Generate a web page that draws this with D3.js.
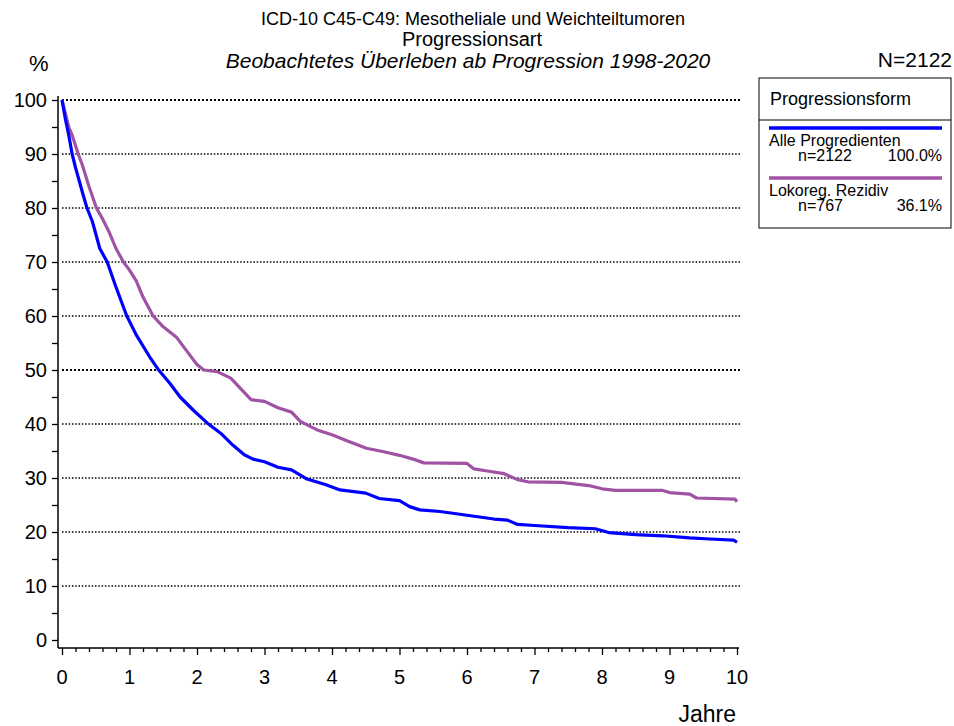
<!DOCTYPE html>
<html>
<head>
<meta charset="utf-8">
<script src="https://cdn.jsdelivr.net/npm/d3@7"></script>
<style>
  body { margin: 0; background: #fff; }
  text { font-family: "Liberation Sans", Arial, sans-serif; fill: #000; }
</style>
</head>
<body>
<svg id="chart" width="954" height="726"></svg>
<script>
// Survival values (years, percent)
const alleYears = [0, 0.05, 0.1, 0.15, 0.2, 0.3, 0.37, 0.45, 0.56, 0.67, 0.79, 0.9, 0.96, 1.1, 1.3, 1.42, 1.6, 1.75, 1.95, 2.15, 2.35, 2.53, 2.7, 2.83, 3.0, 3.2, 3.4, 3.63, 3.9, 4.12, 4.5, 4.7, 5.0, 5.15, 5.3, 5.6, 6.0, 6.4, 6.6, 6.75, 7.0, 7.5, 7.9, 8.1, 8.5, 8.9, 9.3, 9.6, 9.95, 10];
const alleValues = [100, 96.5, 93.5, 90, 87.5, 83, 80, 77.5, 72.5, 70, 65.7, 62, 60, 56.5, 52.4, 50.2, 47.5, 45, 42.5, 40.2, 38.3, 36.1, 34.3, 33.5, 33, 32, 31.5, 29.8, 28.8, 27.8, 27.2, 26.2, 25.8, 24.7, 24.1, 23.8, 23.1, 22.4, 22.2, 21.4, 21.2, 20.8, 20.6, 19.9, 19.5, 19.3, 18.9, 18.7, 18.5, 18.1];

const lokoYears = [0, 0.05, 0.1, 0.15, 0.24, 0.3, 0.4, 0.51, 0.6, 0.7, 0.8, 0.91, 1.0, 1.1, 1.2, 1.35, 1.5, 1.7, 1.85, 2.0, 2.1, 2.3, 2.5, 2.65, 2.8, 3.0, 3.2, 3.4, 3.53, 3.78, 4.0, 4.22, 4.51, 4.75, 5.0, 5.2, 5.36, 6.0, 6.1, 6.3, 6.55, 6.75, 6.9, 7.4, 7.8, 8.0, 8.2, 8.9, 9.0, 9.3, 9.4, 9.97, 10];
const lokoValues = [100, 97.5, 95, 93.5, 90, 88, 84, 80, 78, 75.5, 72.5, 70, 68.5, 66.5, 63.5, 60, 58, 56, 53.5, 51, 50, 49.7, 48.5, 46.5, 44.5, 44.2, 43, 42.2, 40.5, 38.9, 38, 36.9, 35.5, 34.9, 34.2, 33.5, 32.8, 32.7, 31.7, 31.3, 30.8, 29.7, 29.3, 29.2, 28.6, 28.0, 27.7, 27.7, 27.3, 27.0, 26.3, 26.1, 25.6];

const seriesNames = ["Alle Progredienten", "Lokoreg. Rezidiv"];
const seriesN = ["n=2122", "n=767"];
const seriesShare = ["100.0%", "36.1%"];
const seriesColors = ["#0000ff", "#a052a5"];

const xTicks = [0, 1, 2, 3, 4, 5, 6, 7, 8, 9, 10];
const yTicks = [0, 10, 20, 30, 40, 50, 60, 70, 80, 90, 100];
const gridValues = [10, 20, 30, 40, 50, 60, 70, 80, 90, 100];

const svg = d3.select("#chart");

const x = d3.scaleLinear().domain([0, 10]).range([62, 737]);
const y = d3.scaleLinear().domain([0, 100]).range([640, 100]);

// Titles
svg.append("text").attr("x", 473).attr("y", 25).attr("text-anchor", "middle")
  .attr("font-size", 18).text("ICD-10 C45-C49: Mesotheliale und Weichteiltumoren");
svg.append("text").attr("x", 472).attr("y", 46).attr("text-anchor", "middle")
  .attr("font-size", 20).text("Progressionsart");
svg.append("text").attr("x", 468).attr("y", 68).attr("text-anchor", "middle")
  .attr("font-size", 21).attr("font-style", "italic")
  .text("Beobachtetes Überleben ab Progression 1998-2020");
svg.append("text").attr("x", 29).attr("y", 71).attr("font-size", 22).text("%");
svg.append("text").attr("x", 952).attr("y", 67).attr("text-anchor", "end")
  .attr("font-size", 21).text("N=2122");

// Dotted grid (100 and 50 a bit heavier)
svg.append("g")
  .selectAll("line")
  .data(gridValues)
  .join("line")
  .attr("x1", x(0))
  .attr("x2", 740)
  .attr("y1", (d) => y(d))
  .attr("y2", (d) => y(d))
  .attr("stroke", "#000")
  .attr("stroke-width", (d) => (d === 100 || d === 50 ? 2.2 : 1.5))
  .attr("stroke-dasharray", (d) => (d === 100 || d === 50 ? "2,2" : "1.5,1.8"));

// Y axis
const yAxis = svg.append("g").attr("transform", "translate(58,0)");
yAxis.call(d3.axisLeft(y).tickValues(d3.range(0, 101, 5)).tickSize(6).tickFormat(""))
  .call((g) => g.select(".domain").remove());
yAxis.append("line").attr("x1", 0).attr("x2", 0).attr("y1", 96).attr("y2", 648)
  .attr("stroke", "#000").attr("stroke-width", 1.5);
yAxis.selectAll(".tick line").attr("stroke-width", 1.3);
svg.append("g")
  .selectAll("text")
  .data(yTicks)
  .join("text")
  .attr("x", 47)
  .attr("y", (d) => y(d) + 7)
  .attr("text-anchor", "end")
  .attr("font-size", 20)
  .text((d) => d);

// X axis
const xAxis = svg.append("g").attr("transform", "translate(0,648)");
xAxis.call(d3.axisBottom(x).tickValues(d3.range(0, 10.01, 0.2)).tickSize(4).tickFormat(""))
  .call((g) => g.select(".domain").remove());
xAxis.selectAll(".tick line")
  .attr("y2", (d) => (Math.abs(d - Math.round(d)) < 1e-6 ? 7 : 4))
  .attr("stroke-width", 1.3);
xAxis.append("line").attr("x1", 58).attr("x2", 739).attr("y1", 0).attr("y2", 0)
  .attr("stroke", "#000").attr("stroke-width", 1.5);
svg.append("g")
  .selectAll("text")
  .data(xTicks)
  .join("text")
  .attr("x", (d) => x(d))
  .attr("y", 684)
  .attr("text-anchor", "middle")
  .attr("font-size", 20)
  .text((d) => d);
svg.append("text").attr("x", 736).attr("y", 722).attr("text-anchor", "end")
  .attr("font-size", 23).text("Jahre");

// Curves
const line = d3.line()
  .x((d) => x(d[0]))
  .y((d) => y(d[1]));

const curves = [
  d3.zip(alleYears, alleValues),
  d3.zip(lokoYears, lokoValues),
];

svg.append("g")
  .selectAll("path")
  .data([curves[1], curves[0]])
  .join("path")
  .attr("d", line)
  .attr("fill", "none")
  .attr("stroke", (d, i) => seriesColors[1 - i])
  .attr("stroke-width", 3.2)
  .attr("stroke-linejoin", "round");

// Legend
const legend = svg.append("g");
legend.append("rect").attr("x", 759).attr("y", 78).attr("width", 192).attr("height", 150)
  .attr("fill", "#fff").attr("stroke", "#000").attr("stroke-width", 1);
legend.append("line").attr("x1", 759).attr("x2", 951).attr("y1", 120).attr("y2", 120)
  .attr("stroke", "#000");
legend.append("text").attr("x", 770).attr("y", 105).attr("font-size", 18).text("Progressionsform");

const items = legend.selectAll("g.item")
  .data(seriesNames)
  .join("g")
  .attr("class", "item")
  .attr("transform", (d, i) => `translate(0,${i * 50})`);
items.append("line")
  .attr("x1", 769).attr("x2", 942).attr("y1", 128).attr("y2", 128)
  .attr("stroke", (d, i) => seriesColors[i]).attr("stroke-width", 3.5);
items.append("text").attr("x", 769).attr("y", 146).attr("font-size", 16).text((d) => d);
items.append("text").attr("x", 798).attr("y", 161).attr("font-size", 16)
  .text((d, i) => seriesN[i]);
items.append("text").attr("x", 942).attr("y", 161).attr("font-size", 16)
  .attr("text-anchor", "end").text((d, i) => seriesShare[i]);
</script>
</body>
</html>
